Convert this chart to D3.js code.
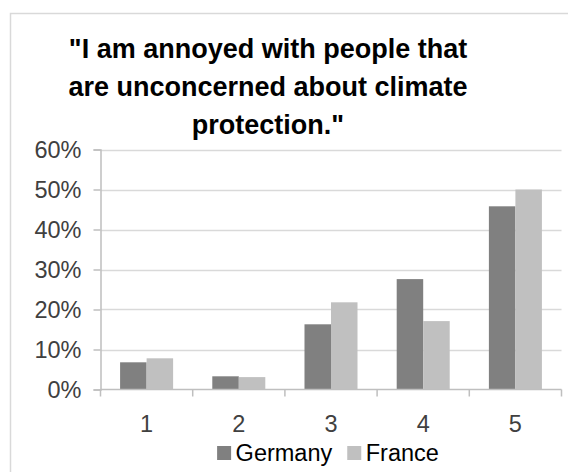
<!DOCTYPE html>
<html>
<head>
<meta charset="utf-8">
<script src="https://cdn.jsdelivr.net/npm/d3@7"></script>
<style>
  html, body { margin: 0; padding: 0; background: #fff; }
  svg { display: block; }
  text { font-family: "Liberation Sans", Arial, sans-serif; }
</style>
</head>
<body>
<svg id="chart" width="568" height="472"></svg>
<script>
// Survey answers on a 1–5 agreement scale
const categories = ["1", "2", "3", "4", "5"];
const seriesNames = ["Germany", "France"];
const germany = [0.068, 0.033, 0.163, 0.276, 0.458];
const france  = [0.078, 0.031, 0.218, 0.171, 0.500];
const yTicks = [0, 0.1, 0.2, 0.3, 0.4, 0.5, 0.6];
const titleLines = ["\"I am annoyed with people that", "are unconcerned about climate", "protection.\""];
const colors = ["#808080", "#c0c0c0"];

const values = [germany, france];
const rows = categories.map((c, i) => ({ cat: c, vals: seriesNames.map((s, j) => ({ s, v: values[j][i] })) }));

const svg = d3.select("#chart");
const labelSize = "23.5px";

// chart frame
svg.append("rect")
  .attr("x", 10.5).attr("y", 13.5)
  .attr("width", 620).attr("height", 520)
  .attr("fill", "#fff").attr("stroke", "#d9d9d9").attr("stroke-width", 1.5);

const plot = { left: 100.5, right: 561.5, top: 149.5, bottom: 389.5 };

const x = d3.scaleBand()
  .domain(categories)
  .range([plot.left, plot.right])
  .paddingInner(0.425)
  .paddingOuter(0.2125);

const xs = d3.scaleBand().domain(seriesNames).range([0, x.bandwidth()]).padding(0);

const y = d3.scaleLinear().domain([0, 0.6]).range([plot.bottom, plot.top]);

// horizontal gridlines
svg.append("g")
  .selectAll("line")
  .data(yTicks.filter(t => t > 0))
  .join("line")
  .attr("x1", plot.left).attr("x2", plot.right)
  .attr("y1", d => Math.round(y(d)) + 0.5).attr("y2", d => Math.round(y(d)) + 0.5)
  .attr("stroke", "#d9d9d9").attr("stroke-width", 1.5);

// y axis
const yAxis = svg.append("g")
  .attr("transform", `translate(${plot.left},0)`)
  .call(d3.axisLeft(y).tickValues(yTicks).tickFormat(d3.format(".0%")).tickSize(7).tickPadding(12));
yAxis.select(".domain").attr("stroke", "#bfbfbf").attr("stroke-width", 1.5);
yAxis.selectAll(".tick line").attr("stroke", "#bfbfbf").attr("stroke-width", 1.5);
yAxis.selectAll(".tick text")
  .attr("fill", "#404040")
  .style("font-size", labelSize)
  .style("font-family", "'Liberation Sans', Arial, sans-serif");

// bars
svg.append("g")
  .selectAll("g")
  .data(rows)
  .join("g")
  .attr("transform", d => `translate(${x(d.cat)},0)`)
  .selectAll("rect")
  .data(d => d.vals)
  .join("rect")
  .attr("x", d => xs(d.s))
  .attr("width", xs.bandwidth())
  .attr("y", d => y(d.v))
  .attr("height", d => y(0) - y(d.v))
  .attr("fill", (d, i) => colors[i]);

// x axis with boundary ticks between categories
const xAxisG = svg.append("g").attr("transform", `translate(0,${plot.bottom})`);
xAxisG.append("line")
  .attr("x1", plot.left).attr("x2", plot.right)
  .attr("stroke", "#bfbfbf").attr("stroke-width", 1.5);
const step = x.step();
xAxisG.selectAll(".bound")
  .data(d3.range(categories.length + 1))
  .join("line")
  .attr("class", "bound")
  .attr("x1", i => plot.left + i * step).attr("x2", i => plot.left + i * step)
  .attr("y1", 0).attr("y2", 7)
  .attr("stroke", "#bfbfbf").attr("stroke-width", 1.5);
xAxisG.selectAll(".lbl")
  .data(categories)
  .join("text")
  .attr("class", "lbl")
  .attr("x", d => x(d) + x.bandwidth() / 2)
  .attr("y", 42)
  .attr("text-anchor", "middle")
  .attr("fill", "#404040")
  .style("font-size", labelSize)
  .text(d => d);

// title
svg.append("g")
  .selectAll("text")
  .data(titleLines)
  .join("text")
  .attr("x", 268)
  .attr("y", (d, i) => 57.5 + i * 38)
  .attr("text-anchor", "middle")
  .attr("fill", "#000")
  .style("font-size", "27px")
  .style("font-weight", "bold")
  .text(d => d);

// legend
const legend = svg.append("g");
let cursor = 0;
seriesNames.forEach((name, i) => {
  const item = legend.append("g").attr("transform", `translate(${cursor},0)`);
  item.append("rect").attr("x", 0).attr("y", -14.5).attr("width", 14).attr("height", 14).attr("fill", colors[i]);
  const t = item.append("text").attr("x", 18.5).attr("y", 0)
    .attr("fill", "#000").style("font-size", labelSize).text(name);
  cursor += 18.5 + t.node().getComputedTextLength() + 15;
});
const legendWidth = cursor - 15;
legend.attr("transform", `translate(${(plot.left + plot.right) / 2 - legendWidth / 2 - 3},460.5)`);
</script>
</body>
</html>
